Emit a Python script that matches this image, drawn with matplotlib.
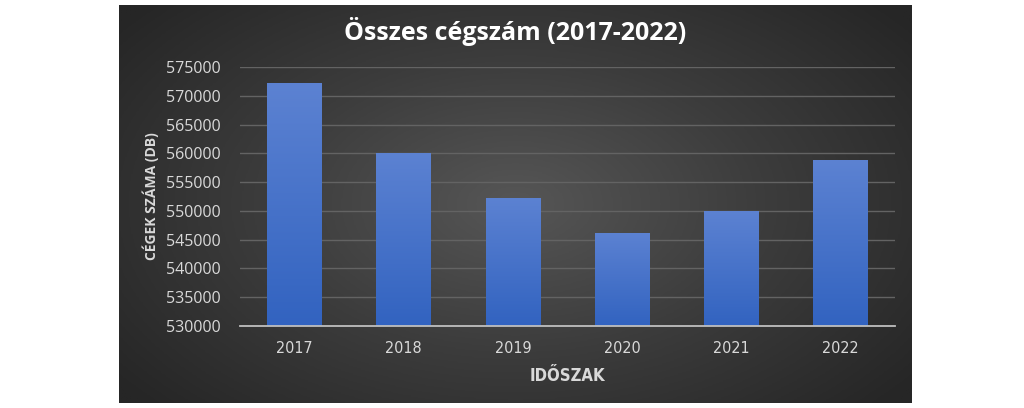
import numpy as np
import matplotlib.pyplot as plt
from matplotlib.colors import LinearSegmentedColormap

years = ['2017', '2018', '2019', '2020', '2021', '2022']
cegszam = [572200, 560100, 552300, 546200, 549900, 558800]

title = 'Összes cégszám (2017-2022)'
ylabel = 'CÉGEK SZÁMA (DB)'
xlabel = 'IDŐSZAK'


def draw_background(fig):
    bg = fig.add_axes([119 / 1024, 5 / 408, 793 / 1024, 398 / 408])
    bg.set_axis_off()
    yy, xx = np.mgrid[-1:1:300j, -1:1:600j]
    r = np.sqrt((xx / 1.1) ** 2 + (yy / 1.3) ** 2)
    cmap = LinearSegmentedColormap.from_list('bg', ['#565656', '#3c3c3c', '#262626'])
    bg.imshow(r, cmap=cmap, aspect='auto', extent=[0, 1, 0, 1], vmin=0, vmax=1.15)
    bg.set_xlim(0, 1)
    bg.set_ylim(0, 1)


def main():
    fig = plt.figure(figsize=(10.24, 4.08), dpi=100)
    fig.patch.set_facecolor('white')
    draw_background(fig)

    ax = fig.add_axes([240 / 1024, 82 / 408, 655 / 1024, 259 / 408])
    ax.patch.set_alpha(0)
    x = np.arange(len(years))
    bars = ax.bar(x, cegszam, width=0.5, color='#4472c4', zorder=3)

    # gradient fill for bars (dark at bottom, light at top)
    grad = np.linspace(0, 1, 256).reshape(-1, 1)
    bcmap = LinearSegmentedColormap.from_list('bar', ['#3263c0', '#5c82d2'])
    for b in bars:
        im = ax.imshow(grad, cmap=bcmap, aspect='auto', zorder=4, origin='lower',
                       extent=[b.get_x(), b.get_x() + b.get_width(), 530000, b.get_height()])
        im.set_clip_path(b)
    ax.set_aspect('auto')
    ax.set_xlim(-0.5, len(years) - 0.5)
    ax.set_ylim(530000, 575000)

    ax.set_yticks(np.arange(530000, 575001, 5000))
    ax.yaxis.grid(True, color='#636363', linewidth=1, zorder=0)
    ax.set_axisbelow(True)
    for s in ['top', 'right', 'left']:
        ax.spines[s].set_visible(False)
    ax.spines['bottom'].set_color('#bfbfbf')
    ax.spines['bottom'].set_linewidth(1.3)
    ax.spines['bottom'].set_zorder(5)
    ax.tick_params(axis='both', length=0)
    ax.tick_params(axis='y', colors='#d9d9d9', labelsize=11.5, pad=14)
    ax.tick_params(axis='x', colors='#d9d9d9', labelsize=11.5, pad=11)
    ax.set_xticks(x)
    ax.set_xticklabels(years, family='DejaVu Sans', fontstretch='condensed')
    for lab in ax.get_yticklabels():
        lab.set_family(['Open Sans', 'DejaVu Sans'])

    ax.set_ylabel(ylabel, color='#d9d9d9', fontsize=10, fontweight='bold',
                  family=['Open Sans', 'DejaVu Sans'], labelpad=5)
    ax.set_xlabel(xlabel, color='#d9d9d9', fontsize=12, fontweight='bold',
                  family='DejaVu Sans', fontstretch='condensed', labelpad=8)

    fig.text(515 / 1024, 1 - 31 / 408, title, color='white', fontsize=18,
             fontweight='bold', ha='center', va='center',
             family=['Open Sans', 'DejaVu Sans'])

    fig.savefig('out.png', dpi=100, facecolor='white')


if __name__ == '__main__':
    main()
